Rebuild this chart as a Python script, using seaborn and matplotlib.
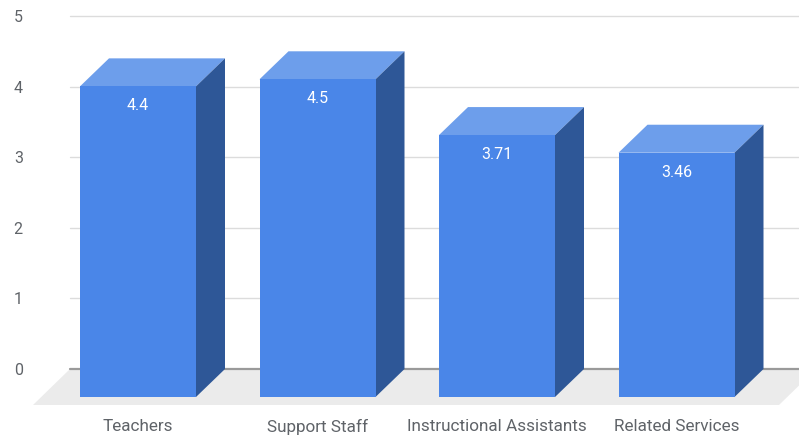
import matplotlib
matplotlib.use("Agg")
import matplotlib.pyplot as plt
from matplotlib.patches import Polygon
import seaborn as sns
import pandas as pd

categories = ["Teachers", "Support Staff", "Instructional Assistants", "Related Services"]
values = [4.4, 4.5, 3.71, 3.46]
y_ticks = [0, 1, 2, 3, 4, 5]

FRONT = "#4a86e8"
TOP = "#6d9eeb"
SIDE = "#2e5797"
FLOOR = "#ebebeb"
GRID = "#dcdcdc"
ZERO = "#9a9a9a"
TEXT = "#5f6368"

W, H, DPI = 799, 436, 100
sns.set_theme(style="white")
plt.rcParams["font.family"] = ["Roboto", "DejaVu Sans"]

fig = plt.figure(figsize=(W / DPI, H / DPI), dpi=DPI)

# pixel geometry of the plotting area (back plane)
left_px, right_px = 70, 799
zero_px, top_px = 369, 16
px_per_cat = 179.5
first_center_px = 167
floor_right_px = 816
depth_dx, depth_dy = 29, 28          # bar depth (px)
floor_dx, floor_dy = 37, 36          # floor depth (px)

xmin = -(first_center_px - left_px) / px_per_cat
xmax = (right_px - first_center_px) / px_per_cat
ymax = y_ticks[-1]
px_per_unit = (zero_px - top_px) / ymax

def fig_rect(l, r, b, t):
    return [l / W, (H - b) / H, (r - l) / W, (b - t) / H]

# back plane: gridlines, floor, value axis
ax_back = fig.add_axes(fig_rect(left_px, right_px, zero_px, top_px))
ax_back.set_xlim(xmin, xmax)
ax_back.set_ylim(0, ymax)
ax_back.set_yticks(y_ticks)
ax_back.set_xticks([])
for t in y_ticks[1:]:
    ax_back.axhline(t, color=GRID, lw=1.0, zorder=1, clip_on=False)
ax_back.axhline(0, color=ZERO, lw=1.6, zorder=3, clip_on=False)
sns.despine(ax=ax_back, left=True, bottom=True)
ax_back.tick_params(axis="y", length=0, pad=34, labelsize=11.5, labelcolor=TEXT)

fdx = floor_dx / px_per_cat
fdy = floor_dy / px_per_unit
floor_right = (floor_right_px - first_center_px) / px_per_cat
ax_back.add_patch(Polygon(
    [(xmin, 0), (floor_right, 0), (floor_right - fdx, -fdy), (xmin - fdx, -fdy)],
    closed=True, facecolor=FLOOR, edgecolor="none", clip_on=False, zorder=0))

# front plane: bar faces shifted toward the viewer
ax = fig.add_axes(fig_rect(left_px - depth_dx, right_px - depth_dx,
                           zero_px + depth_dy, top_px + depth_dy))
ax.patch.set_alpha(0)
df = pd.DataFrame({"category": categories, "value": values})
sns.barplot(data=df, x="category", y="value", color=FRONT, saturation=1,
            width=116 / px_per_cat, ax=ax, zorder=5)
ax.set_xlim(xmin, xmax)
ax.set_ylim(0, ymax)
ax.set_xlabel("")
ax.set_ylabel("")
ax.set_yticks([])
sns.despine(ax=ax, left=True, bottom=True)
ax.tick_params(axis="x", length=0, pad=16, labelsize=12.3, labelcolor=TEXT)

ddx = depth_dx / px_per_cat
ddy = depth_dy / px_per_unit
for bar, v in zip(ax.patches, values):
    bar.set_edgecolor("none")
    x0 = bar.get_x()
    x1 = x0 + bar.get_width()
    h = bar.get_height()
    ax.add_patch(Polygon([(x0, h), (x1, h), (x1 + ddx, h + ddy), (x0 + ddx, h + ddy)],
                         closed=True, facecolor=TOP, edgecolor="none",
                         clip_on=False, zorder=4))
    ax.add_patch(Polygon([(x1, 0), (x1 + ddx, ddy), (x1 + ddx, h + ddy), (x1, h)],
                         closed=True, facecolor=SIDE, edgecolor="none",
                         clip_on=False, zorder=4))
    ax.annotate(f"{v:g}", xy=((x0 + x1) / 2, h), xytext=(0, -14),
                textcoords="offset points", ha="center", va="center",
                color="white", fontsize=11.5, zorder=6)

fig.savefig("out.png", dpi=DPI)
